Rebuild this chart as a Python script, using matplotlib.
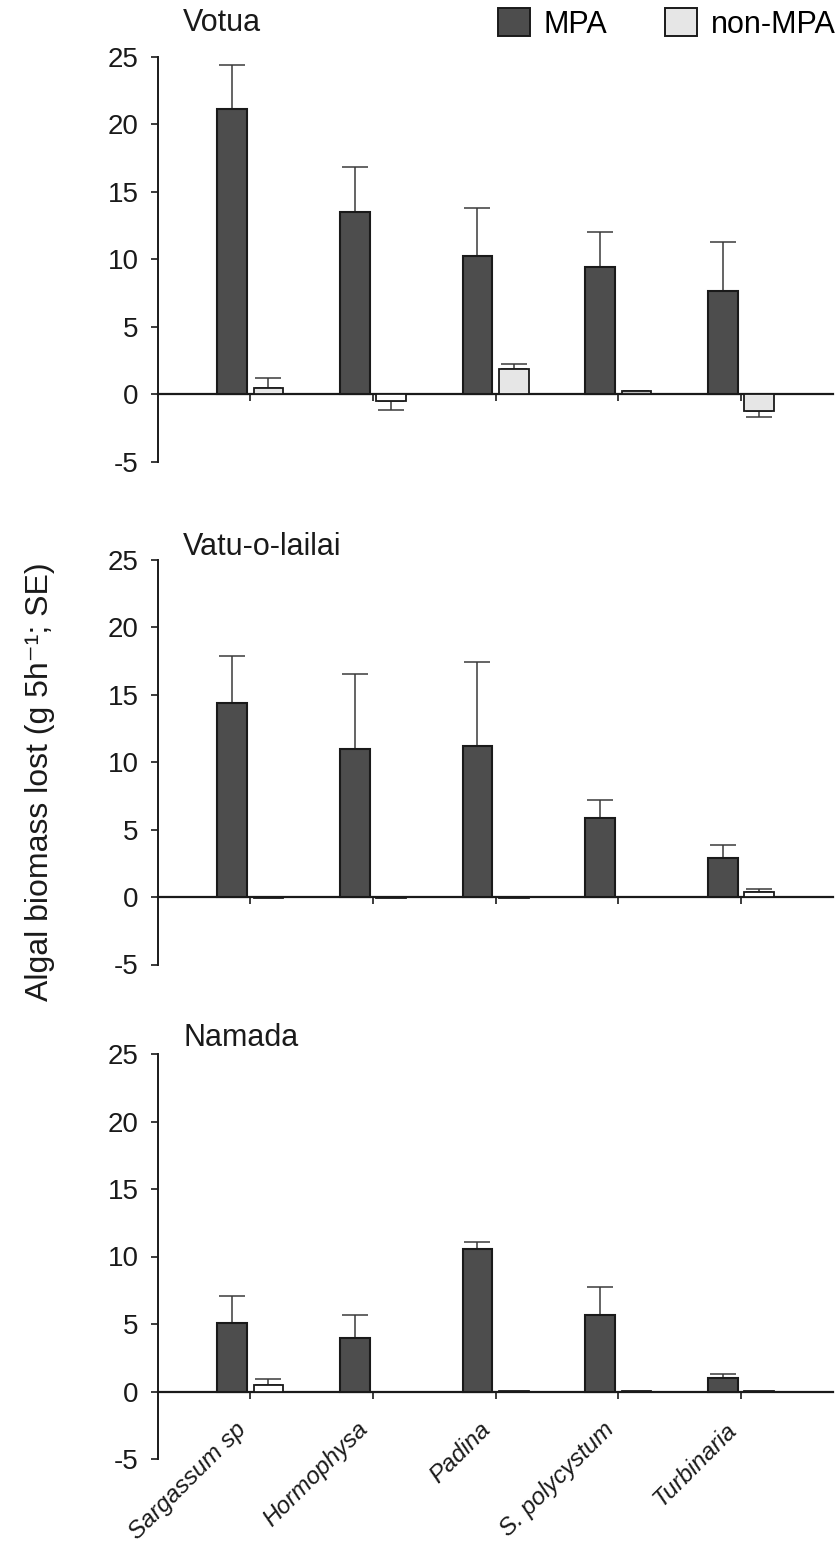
import matplotlib
matplotlib.use("Agg")
import matplotlib.pyplot as plt
from matplotlib.patches import Patch
import numpy as np

plt.rcParams['font.family'] = ['Liberation Sans', 'DejaVu Sans']

categories = ["Sargassum sp", "Hormophysa", "Padina", "S. polycystum", "Turbinaria"]
sites = ["Votua", "Vatu-o-lailai", "Namada"]

# mean algal biomass lost (g 5h-1) and SE
votua_mpa = [21.1, 13.5, 10.2, 9.45, 7.65]
votua_mpa_se = [3.3, 3.35, 3.6, 2.6, 3.65]
votua_non = [0.49, -0.49, 1.83, 0.2, -1.21]
votua_non_se = [0.7, 0.67, 0.44, 0.07, 0.46]

vatu_mpa = [14.4, 11.0, 11.24, 5.87, 2.92]
vatu_mpa_se = [3.5, 5.55, 6.2, 1.36, 0.92]
vatu_non = [-0.05, -0.1, -0.05, -0.03, 0.4]
vatu_non_se = [0.0, 0.0, 0.0, 0.0, 0.22]

namada_mpa = [5.04, 4.0, 10.52, 5.63, 0.99]
namada_mpa_se = [2.05, 1.65, 0.54, 2.1, 0.32]
namada_non = [0.47, -0.05, 0.02, 0.03, 0.03]
namada_non_se = [0.44, 0.0, 0.0, 0.0, 0.0]

yticks = [-5, 0, 5, 10, 15, 20, 25]

panels = [
    (votua_mpa, votua_mpa_se, votua_non, votua_non_se),
    (vatu_mpa, vatu_mpa_se, vatu_non, vatu_non_se),
    (namada_mpa, namada_mpa_se, namada_non, namada_non_se),
]

W, H = 837, 1546
fig = plt.figure(figsize=(W / 100, H / 100), dpi=100)

# axes pixel geometry: (top of 25, bottom of -5)
ax_px = [(56.7, 461.7), (560, 964.5), (1054, 1459)]
title_y = [23, 547, 1038]
left_px, right_px = 158.3, 833

dark = "#4d4d4d"
light_fills = [["#e6e6e6", "#ffffff", "#e6e6e6", "#bdbdbd", "#e6e6e6"],
               ["#ffffff"] * 5,
               ["#ffffff"] * 5]

x = np.arange(len(categories))
off, bw = 0.148, 0.242

for i, (mpa, mpa_se, non, non_se) in enumerate(panels):
    top, bot = ax_px[i]
    ax = fig.add_axes([left_px / W, 1 - bot / H, (right_px - left_px) / W, (bot - top) / H])
    ax.bar(x - off, mpa, bw, color=dark, edgecolor="#1a1a1a", linewidth=1.5, zorder=3)
    ax.bar(x + off, non, bw, color=light_fills[i], edgecolor="#1a1a1a", linewidth=1.3, zorder=3)
    for xs, vals, ses in ((x - off, mpa, mpa_se), (x + off, non, non_se)):
        vals = np.array(vals); ses = np.array(ses)
        lower = np.where(vals < 0, ses, 0)
        upper = np.where(vals >= 0, ses, 0)
        mask = ses > 0
        ax.errorbar(xs[mask], vals[mask], yerr=[lower[mask], upper[mask]], fmt="none",
                    ecolor="#3a3a3a", elinewidth=1.1, capsize=9.5, capthick=1.1, zorder=2)
    ax.set_xlim(-0.75, 4.75)
    ax.set_ylim(-5, 25)
    ax.set_yticks(yticks)
    ax.set_yticklabels([str(t) for t in yticks], fontsize=20)
    for s in ("top", "right"):
        ax.spines[s].set_visible(False)
    ax.spines["bottom"].set_position(("data", 0))
    ax.spines["bottom"].set_linewidth(1.6)
    ax.spines["bottom"].set_color("#1a1a1a")
    ax.spines["left"].set_linewidth(1.4)
    ax.spines["left"].set_color("#1a1a1a")
    ax.tick_params(axis="y", direction="out", length=5, width=1.2, pad=9, colors="#1a1a1a")
    ax.tick_params(axis="x", direction="out", length=5, width=1.2, colors="#1a1a1a")
    ax.set_xticks(x)
    if i == 2:
        ax.set_xticklabels(categories, rotation=45, ha="right", va="top",
                           fontsize=17.5, fontstyle="italic")
        ax.tick_params(axis="x", pad=14)
    else:
        ax.set_xticklabels([])
    ax.patch.set_alpha(0)
    fig.text((left_px + 25) / W, 1 - title_y[i] / H, sites[i], fontsize=22,
             ha="left", va="center", color="#1a1a1a")

fig.text(40 / W, 1 - 782 / H, "Algal biomass lost (g 5h\u207b\u00b9; SE)", rotation=90,
         fontsize=23, ha="center", va="center", color="#1a1a1a")

handles = [Patch(facecolor=dark, edgecolor="#1a1a1a", linewidth=1.4, label="MPA"),
           Patch(facecolor="#e6e6e6", edgecolor="#1a1a1a", linewidth=1.4, label="non-MPA")]
fig.legend(handles=handles, loc="upper right", bbox_to_anchor=(836 / W, 1 - 8 / H), ncol=2,
           frameon=False, fontsize=22, handlelength=1.05, handleheight=1.05,
           handletextpad=0.45, columnspacing=1.9, borderaxespad=0, borderpad=0)

fig.savefig("out.png", dpi=100)
